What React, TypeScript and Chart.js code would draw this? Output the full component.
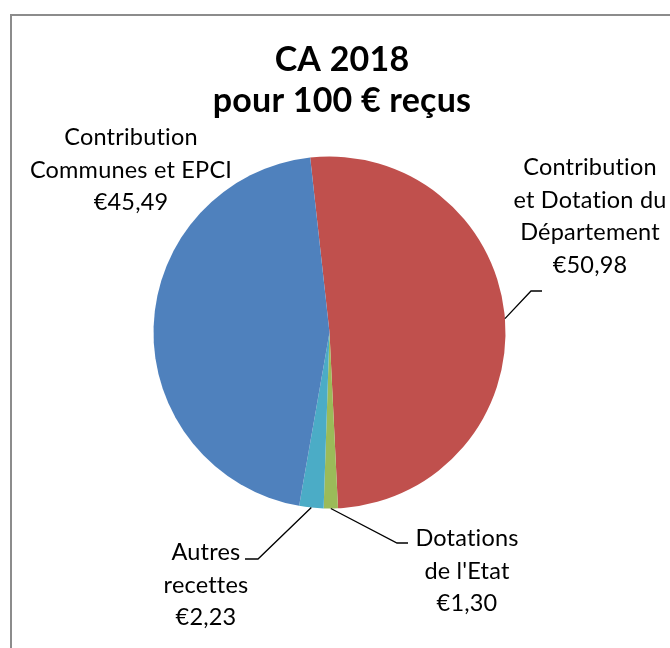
import React, { useEffect, useRef } from "react";
import { Chart, PieController, ArcElement } from "chart.js";

Chart.register(PieController, ArcElement);

// ---- data ----
const categories: string[][] = [
  ["Contribution", "et Dotation du", "Département"],
  ["Dotations", "de l'Etat"],
  ["Autres", "recettes"],
  ["Contribution", "Communes et EPCI"],
];
const values: number[] = [50.98, 1.3, 2.23, 45.49];
const colors: string[] = ["#C0504D", "#9BBB59", "#4BACC6", "#4F81BD"];
const titleLines: string[] = ["CA 2018", "pour 100 € reçus"];

// ---- label layout (text centre x, first baseline y, leader bend/end) ----
const labelLayout = [
  { x: 590, y: 175, leader: [[531, 291], [542, 291]] },
  { x: 467, y: 546, leader: [[397, 543], [408, 543]] },
  { x: 206, y: 560, leader: [[258, 559], [245, 559]] },
  { x: 131, y: 145, leader: null as number[][] | null },
];

const FONT = "Lato, 'Open Sans', sans-serif";
const LINE_H = 32.5;

const fmt = (v: number) => "€" + v.toFixed(2).replace(".", ",");

const decorPlugin = {
  id: "decor",
  beforeDraw(chart: any) {
    const ctx = chart.ctx;
    ctx.save();
    ctx.fillStyle = "#ffffff";
    ctx.fillRect(0, 0, chart.width, chart.height);
    ctx.strokeStyle = "#8C8C8C";
    ctx.lineWidth = 2;
    ctx.strokeRect(11, 15, chart.width + 20, chart.height + 20);
    ctx.restore();
  },
  afterDraw(chart: any) {
    const ctx = chart.ctx;
    ctx.save();
    try {
      (ctx as any).letterSpacing = "0.2px";
    } catch (e) {}
    // title
    ctx.fillStyle = "#000000";
    ctx.textAlign = "center";
    ctx.textBaseline = "alphabetic";
    ctx.font = `bold 34px ${FONT}`;
    ctx.fillText(titleLines[0], 342, 71);
    ctx.fillText(titleLines[1], 342, 112);

    // labels
    const meta = chart.getDatasetMeta(0);
    ctx.font = `23.5px ${FONT}`;
    meta.data.forEach((arc: any, i: number) => {
      const p = arc.getProps(["x", "y", "startAngle", "endAngle", "outerRadius"], true);
      const mid = (p.startAngle + p.endAngle) / 2;
      const sx = p.x + Math.cos(mid) * p.outerRadius;
      const sy = p.y + Math.sin(mid) * p.outerRadius;
      const lay = labelLayout[i];
      if (lay.leader) {
        ctx.strokeStyle = "#000000";
        ctx.lineWidth = 1.3;
        ctx.beginPath();
        ctx.moveTo(sx, sy);
        lay.leader.forEach((pt) => ctx.lineTo(pt[0], pt[1]));
        ctx.stroke();
      }
      const lines = [...categories[i], fmt(values[i])];
      lines.forEach((t, k) => {
        ctx.fillText(t, lay.x, lay.y + k * LINE_H);
      });
    });
    ctx.restore();
  },
};

export default function App() {
  const ref = useRef<HTMLCanvasElement | null>(null);
  useEffect(() => {
    if (!ref.current) return;
    const chart = new Chart(ref.current, {
      type: "pie",
      data: {
        labels: categories.map((c) => c.join(" ")),
        datasets: [
          {
            data: values,
            backgroundColor: colors,
            borderWidth: 0,
          },
        ],
      },
      options: {
        animation: false,
        responsive: true,
        maintainAspectRatio: false,
        rotation: -6.3,
        layout: {
          padding: { left: 153.5, right: 164.5, top: 156.5, bottom: 139.5 },
        },
        plugins: {
          legend: { display: false },
          title: { display: false },
          tooltip: { enabled: false },
        },
      },
      plugins: [decorPlugin],
    });
    return () => chart.destroy();
  }, []);
  return (
    <div style={{ position: "fixed", left: 0, top: 0, width: 670, height: 648, background: "#fff" }}>
      <canvas ref={ref} />
    </div>
  );
}
